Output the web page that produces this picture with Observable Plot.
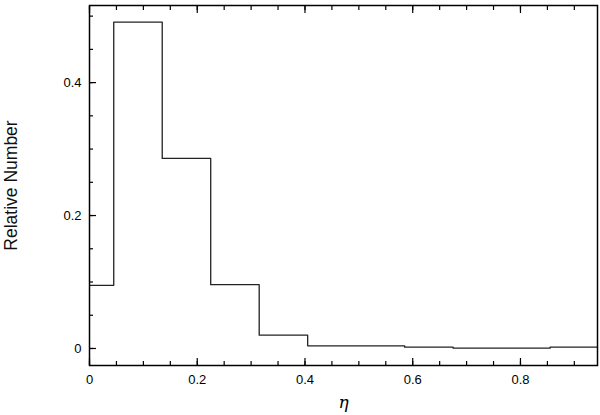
<!DOCTYPE html>
<html>
<head>
<meta charset="utf-8">
<script src="https://cdn.jsdelivr.net/npm/d3@7"></script>
<script src="https://cdn.jsdelivr.net/npm/@observablehq/plot@0.6"></script>
<style>
  html, body { margin: 0; padding: 0; background: #fff; }
  #chart svg { display: block; }
</style>
</head>
<body>
<div id="chart"></div>
<script>
// Bin edges (η) and relative number in each bin
const binEdges = [0, 0.045, 0.135, 0.225, 0.315, 0.405, 0.495, 0.585, 0.675, 0.765, 0.855, 0.945];
const relNumber = [0.095, 0.491, 0.286, 0.096, 0.020, 0.004, 0.004, 0.002, 0.0005, 0.0005, 0.002];

const xMajor = [0, 0.2, 0.4, 0.6, 0.8];
const xMinor = d3.range(0, 0.95, 0.05);
const yMajor = [0, 0.2, 0.4];
const yMinor = d3.range(0, 0.52, 0.05);

const steps = relNumber.map((v, i) => ({x: binEdges[i], y: v}));
steps.push({x: binEdges[binEdges.length - 1], y: relNumber[relNumber.length - 1]});

const chart = Plot.plot({
  width: 600,
  height: 415,
  marginLeft: 89,
  marginRight: 3,
  marginTop: 5,
  marginBottom: 50,
  style: {fontFamily: "'Liberation Sans', Arial, sans-serif", fontSize: "13px", color: "#000", background: "#fff"},
  x: {domain: [0, 0.943]},
  y: {domain: [-0.0256, 0.516]},
  marks: [
    Plot.line(steps, {x: "x", y: "y", curve: "step-after", stroke: "#222", strokeWidth: 1.3, clip: true}),
    // bottom axis
    Plot.axisX({anchor: "bottom", ticks: xMajor, tickSize: 0, tickPadding: 9, tickFormat: d => d === 0 ? "0" : String(d), label: null}),
    Plot.axisX({anchor: "bottom", ticks: xMajor, tickSize: -7, text: null, label: null, strokeWidth: 1.2}),
    Plot.axisX({anchor: "bottom", ticks: xMinor, tickSize: -4, text: null, label: null, strokeWidth: 1.2}),
    // top axis ticks
    Plot.axisX({anchor: "top", ticks: xMajor, tickSize: -7, text: null, label: null, strokeWidth: 1.2}),
    Plot.axisX({anchor: "top", ticks: xMinor, tickSize: -4, text: null, label: null, strokeWidth: 1.2}),
    // left axis
    Plot.axisY({anchor: "left", ticks: yMajor, tickSize: 0, tickPadding: 8, tickFormat: d => d === 0 ? "0" : String(d), label: null}),
    Plot.axisY({anchor: "left", ticks: yMajor, tickSize: -7, text: null, label: null, strokeWidth: 1.2}),
    Plot.axisY({anchor: "left", ticks: yMinor, tickSize: -4, text: null, label: null, strokeWidth: 1.2}),
    Plot.frame({stroke: "#000", strokeWidth: 1.5}),
    Plot.text(["Relative Number"], {frameAnchor: "left", dx: -78, rotate: -90, textAnchor: "middle", fontSize: 17.5, fill: "#111"}),
    Plot.text(["η"], {frameAnchor: "bottom", dy: 42, fontSize: 17, fontStyle: "italic", fontFamily: "'DejaVu Serif', serif"})
  ]
});

document.getElementById("chart").appendChild(chart);
</script>
</body>
</html>
